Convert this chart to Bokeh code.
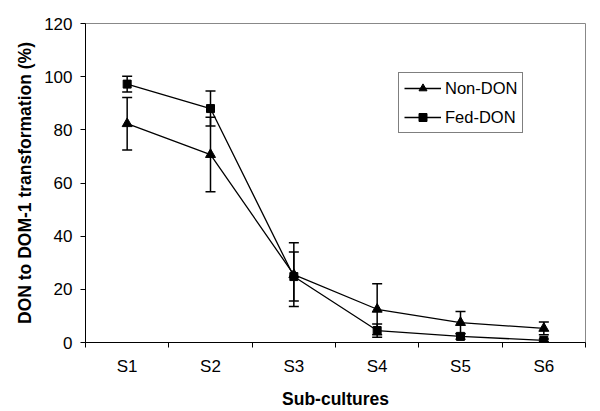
from bokeh.plotting import figure
from bokeh.models import ColumnDataSource, Whisker, TeeHead, FixedTicker, Legend, LegendItem
from bokeh.embed import file_html
from bokeh.resources import INLINE

categories = ["S1", "S2", "S3", "S4", "S5", "S6"]
non_don = [82.3, 70.7, 25.5, 12.5, 7.5, 5.3]
non_don_err = [9.9, 14.0, 12.0, 9.6, 4.2, 2.4]
fed_don = [97.2, 88.0, 24.8, 4.5, 2.3, 0.8]
fed_don_err = [3.0, 6.6, 9.2, 2.5, 1.1, 0.5]
y_ticks = [0, 20, 40, 60, 80, 100, 120]

FONT = "Liberation Sans"

xs = [i + 0.5 for i in range(len(categories))]

p = figure(width=600, height=411, output_backend="svg", toolbar_location=None,
           x_range=(0, len(categories)), y_range=(0, 120),
           min_border_left=85, min_border_right=15, min_border_top=23, min_border_bottom=68)
p.background_fill_color = "white"
p.border_fill_color = "white"
p.outline_line_color = "#888888"
p.outline_line_width = 1
p.xgrid.visible = False
p.ygrid.visible = False

# x axis: labels at centers, ticks at boundaries
p.xaxis.ticker = FixedTicker(ticks=xs, minor_ticks=list(range(len(categories) + 1)))
p.xaxis.major_label_overrides = {x: c for x, c in zip(xs, categories)}
p.xaxis.major_tick_line_color = None
p.xaxis.major_tick_out = 5
p.xaxis.major_tick_in = 0
p.xaxis.minor_tick_out = 5
p.xaxis.minor_tick_in = 0
p.xaxis.minor_tick_line_color = "black"
p.xaxis.axis_label = "Sub-cultures"

p.yaxis.ticker = FixedTicker(ticks=y_ticks)
p.yaxis.major_tick_out = 5
p.yaxis.major_tick_in = 0
p.yaxis.minor_tick_line_color = None
p.yaxis.axis_label = "DON to DOM-1 transformation (%)"

for ax in (p.xaxis[0], p.yaxis[0]):
    ax.axis_line_color = "black"
    ax.axis_line_width = 1
    ax.major_tick_line_width = 1
    ax.major_label_text_font = FONT
    ax.major_label_text_font_size = "17px"
    ax.major_label_text_color = "black"
    ax.axis_label_text_font = FONT
    ax.axis_label_text_font_size = "17.5px"
    ax.axis_label_text_font_style = "bold"
    ax.axis_label_text_color = "black"

p.xaxis.major_label_standoff = 9
p.xaxis.axis_label_standoff = 10
p.yaxis.major_label_standoff = 8
p.yaxis.axis_label_standoff = 6

src_n = ColumnDataSource(dict(x=xs, y=non_don,
                              lo=[v - e for v, e in zip(non_don, non_don_err)],
                              hi=[v + e for v, e in zip(non_don, non_don_err)]))
src_f = ColumnDataSource(dict(x=xs, y=fed_don,
                              lo=[v - e for v, e in zip(fed_don, fed_don_err)],
                              hi=[v + e for v, e in zip(fed_don, fed_don_err)]))

for src in (src_n, src_f):
    w = Whisker(source=src, base="x", lower="lo", upper="hi", dimension="height",
                line_color="black", line_width=1.5,
                upper_head=TeeHead(size=10, line_color="black", line_width=1.5),
                lower_head=TeeHead(size=10, line_color="black", line_width=1.5))
    p.add_layout(w)

ln = p.line("x", "y", source=src_n, line_color="black", line_width=1.3)
sn = p.scatter("x", "y", source=src_n, marker="triangle", size=10,
               fill_color="black", line_color="black")
lf = p.line("x", "y", source=src_f, line_color="black", line_width=1.3)
sf = p.scatter("x", "y", source=src_f, marker="square", size=8,
               fill_color="black", line_color="black")

legend = Legend(items=[LegendItem(label="Non-DON", renderers=[ln, sn]),
                       LegendItem(label="Fed-DON", renderers=[lf, sf])],
                location=(313, 209))
legend.border_line_color = "black"
legend.border_line_width = 1
legend.background_fill_color = "white"
legend.label_text_font = FONT
legend.label_text_font_size = "16.5px"
legend.label_text_color = "black"
legend.glyph_width = 37
legend.glyph_height = 20
legend.label_height = 20
legend.spacing = 9
legend.padding = 5
legend.margin = 0
legend.label_standoff = 4
p.add_layout(legend, "center")

open("out.html", "w").write(file_html(p, INLINE))
